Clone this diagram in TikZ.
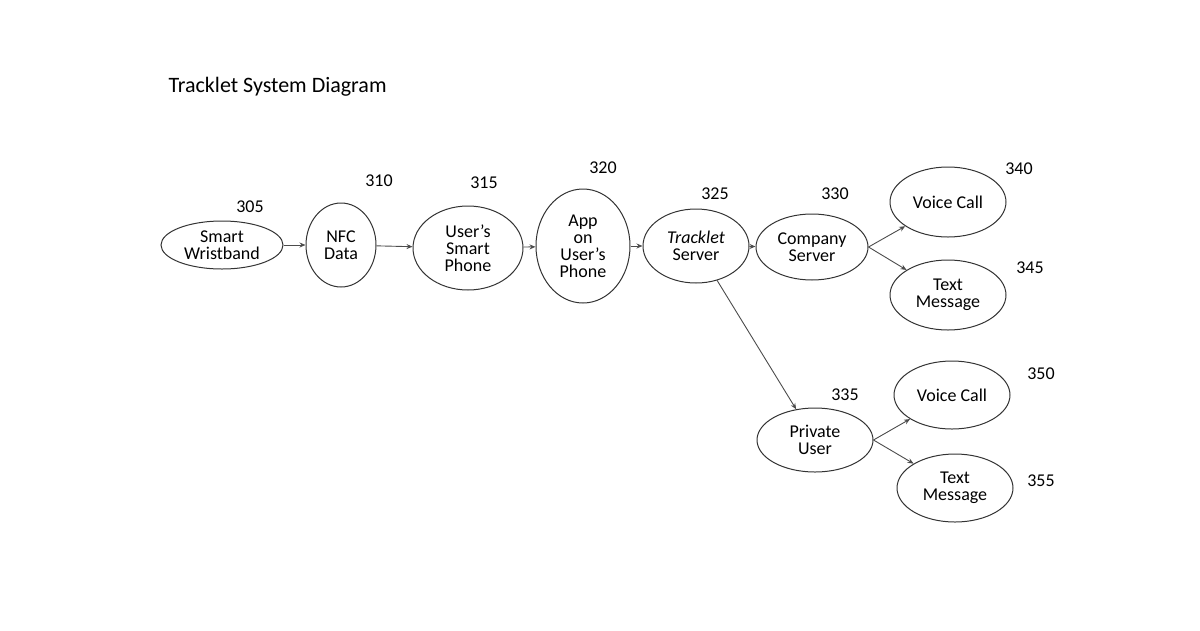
\documentclass[tikz,border=0pt]{standalone}
\usepackage{fontspec}
\setmainfont{Carlito}
\usetikzlibrary{shapes.geometric,arrows.meta}
\begin{document}
\begin{tikzpicture}[x=1pt,y=-1pt,
 el/.style={ellipse,draw=black!80,line width=1pt,inner sep=0pt,align=center,font=\fontsize{18}{20}\selectfont},
 num/.style={font=\fontsize{18}{20}\selectfont},
 ar/.style={draw=black!70,line width=0.9pt,-{Stealth[length=6pt,width=5pt]}}]
\useasboundingbox (0,0) rectangle (1200,630);
\node[anchor=west,font=\fontsize{22}{24}\selectfont] (title) at (165,87) {Tracklet System Diagram};
\node[el,minimum width=122,minimum height=48] (sw) at (222,245) {Smart\\[-3pt]Wristband};
\node[el,minimum width=70,minimum height=84] (nfc) at (341,245) {NFC\\[-3pt]Data};
\node[el,minimum width=110,minimum height=84] (usp) at (468,248) {User’s\\[-3pt]Smart\\[-3pt]Phone};
\node[el,minimum width=94,minimum height=114] (app) at (583,246) {App\\[-3pt]on\\[-3pt]User’s\\[-3pt]Phone};
\node[el,minimum width=106,minimum height=74] (ts) at (696,246) {\textit{Tracklet}\\[-3pt]Server};
\node[el,minimum width=112,minimum height=66] (cs) at (812,247) {Company\\[-3pt]Server};
\node[el,minimum width=116,minimum height=70] (vc1) at (948,202) {Voice Call};
\node[el,minimum width=116,minimum height=70] (tm1) at (948,295) {Text\\[-3pt]Message};
\node[el,minimum width=116,minimum height=64] (pu) at (815,440) {Private\\[-3pt]User};
\node[el,minimum width=116,minimum height=68] (vc2) at (952,395) {Voice Call};
\node[el,minimum width=116,minimum height=68] (tm2) at (955,488) {Text\\[-3pt]Message};
\node[num] (n305) at (250,207) {305};
\node[num] (n310) at (379,181) {310};
\node[num] (n315) at (484,183) {315};
\node[num] (n320) at (603,168) {320};
\node[num] (n325) at (715,194) {325};
\node[num] (n330) at (835,194) {330};
\node[num] (n340) at (1019,169) {340};
\node[num] (n345) at (1030,268) {345};
\node[num] (n335) at (845,395) {335};
\node[num] (n350) at (1041,374) {350};
\node[num] (n355) at (1041,481) {355};
\draw[ar] (sw) -- (nfc);
\draw[ar] (nfc) -- (usp);
\draw[ar] (usp) -- (app);
\draw[ar] (app) -- (ts);
\draw[ar] (ts) -- (cs);
\draw[ar] (cs.east) -- (vc1);
\draw[ar] (cs.east) -- (tm1);
\draw[ar] (ts) -- (pu);
\draw[ar] (pu.east) -- (vc2);
\draw[ar] (pu.east) -- (tm2);
\end{tikzpicture}
\end{document}
